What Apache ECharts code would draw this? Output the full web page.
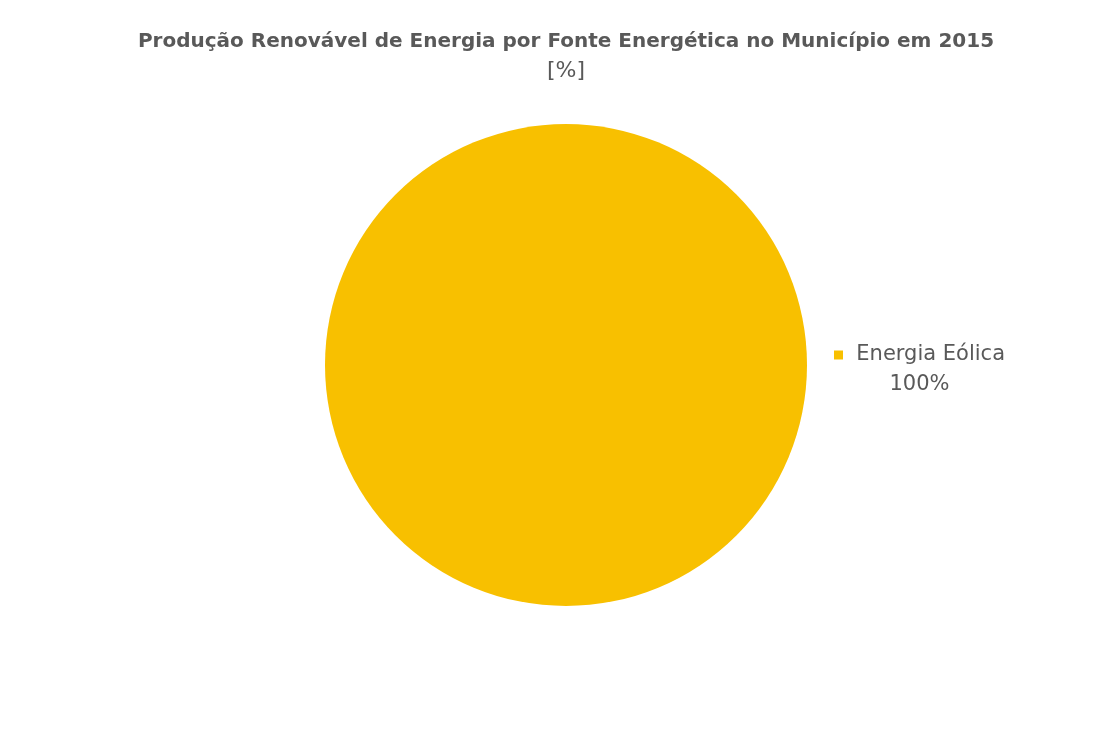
<!DOCTYPE html>
<html>
<head>
<meta charset="utf-8">
<script src="https://cdn.jsdelivr.net/npm/echarts@6/dist/echarts.min.js"></script>
<style>
  html, body { margin: 0; padding: 0; background: #fff; }
  #chart { width: 1115px; height: 733px; }
</style>
</head>
<body>
<div id="chart"></div>
<script>
// dados
var fontes = ['Energia Eólica'];
var valores = [100];
var cores = ['#F8C000'];

var myChart = echarts.init(document.getElementById('chart'));
var options = {
    title: {
        text: 'Produção Renovável de Energia por Fonte Energética no Município em 2015',
        subtext: '[%]',
        left: 566,
        textAlign: 'center',
        top: 32,
        padding: 0,
        itemGap: 8,
        textStyle: { fontFamily: 'DejaVu Sans', fontWeight: 'bold', fontSize: 20, color: '#595959' },
        subtextStyle: { fontFamily: 'DejaVu Sans', fontSize: 22, color: '#595959' }
    },
    series: [{
        type: 'pie',
        center: [566, 365],
        radius: 241,
        startAngle: 180,
        silent: true,
        data: fontes.map(function (n, i) {
            return { name: n, value: valores[i], itemStyle: { color: cores[i] } };
        }),
        labelLine: { show: false, length: 12, length2: 10 },
        label: {
            show: true,
            position: 'outside',
            formatter: '{s|}  {a|{b}}\n{c|{d}%}',
            color: '#595959',
            fontFamily: 'DejaVu Sans',
            fontSize: 21,
            lineHeight: 30,
            padding: [10, 0, 0, 0],
            rich: {
                s: { width: 9, height: 9, backgroundColor: '#F8C000' },
                a: { fontFamily: 'DejaVu Sans', fontSize: 21, color: '#595959' },
                c: { fontFamily: 'DejaVu Sans', fontSize: 21, color: '#595959', align: 'center' }
            }
        }
    }]
};
myChart.setOption(options);
</script>
</body>
</html>
